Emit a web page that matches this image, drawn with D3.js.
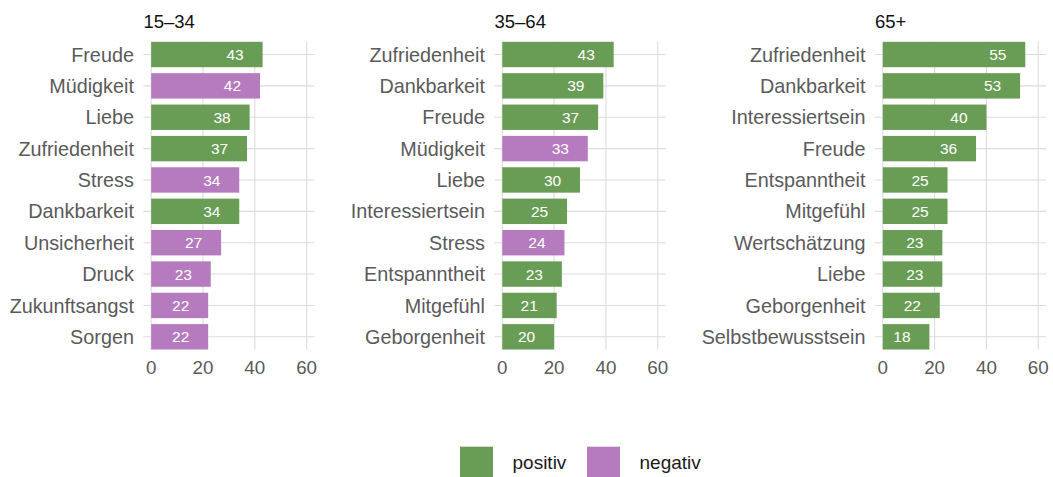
<!DOCTYPE html>
<meta charset="utf-8">
<html>
<style>
body { margin: 0; background: #fff; }
svg { font-family: "Liberation Sans", Arial, sans-serif; }
.grid line { stroke: #dcdcdc; stroke-width: 1.1px; }
.cat { fill: #5a5a5a; font-size: 19.8px; }
.tick { fill: #5a5a5a; font-size: 18.8px; }
.title { fill: #111; font-size: 18.5px; }
.val { fill: #fff; font-size: 15.5px; }
.legend text { fill: #1a1a1a; font-size: 19px; }
</style>
<body>
<script src="https://cdnjs.cloudflare.com/ajax/libs/d3/7.8.5/d3.min.js"></script>
<script>
	var width = 1053;
	var height = 477;

	var groups = ["15–34", "35–64", "65+"];

	var labels1 = ["Freude", "Müdigkeit", "Liebe", "Zufriedenheit", "Stress", "Dankbarkeit", "Unsicherheit", "Druck", "Zukunftsangst", "Sorgen"];
	var values1 = [43, 42, 38, 37, 34, 34, 27, 23, 22, 22];
	var kinds1  = ["positiv", "negativ", "positiv", "positiv", "negativ", "positiv", "negativ", "negativ", "negativ", "negativ"];

	var labels2 = ["Zufriedenheit", "Dankbarkeit", "Freude", "Müdigkeit", "Liebe", "Interessiertsein", "Stress", "Entspanntheit", "Mitgefühl", "Geborgenheit"];
	var values2 = [43, 39, 37, 33, 30, 25, 24, 23, 21, 20];
	var kinds2  = ["positiv", "positiv", "positiv", "negativ", "positiv", "positiv", "negativ", "positiv", "positiv", "positiv"];

	var labels3 = ["Zufriedenheit", "Dankbarkeit", "Interessiertsein", "Freude", "Entspanntheit", "Mitgefühl", "Wertschätzung", "Liebe", "Geborgenheit", "Selbstbewusstsein"];
	var values3 = [55, 53, 40, 36, 25, 25, 23, 23, 22, 18];
	var kinds3  = ["positiv", "positiv", "positiv", "positiv", "positiv", "positiv", "positiv", "positiv", "positiv", "positiv"];

	var xTicks = [0, 20, 40, 60];
	var legendKeys = ["positiv", "negativ"];

	var color = d3.scaleOrdinal().domain(legendKeys).range(["#699d55", "#b57bbe"]);

	var panelLefts = [143.4, 494.5, 875];
	var panelWidth = 171;
	var panelTop = 41.8, panelBottom = 349.5;

	var svg = d3.select("body").append("svg")
		.attr("width", width)
		.attr("height", height);

	var panels = [
		{labels: labels1, values: values1, kinds: kinds1},
		{labels: labels2, values: values2, kinds: kinds2},
		{labels: labels3, values: values3, kinds: kinds3}
	];

	panels.forEach(function(p, i) {
		var left = panelLefts[i];
		var x = d3.scaleLinear().domain([-3, 63]).range([left, left + panelWidth]);
		var y = d3.scaleBand().domain(p.labels).range([panelTop, panelBottom])
			.paddingInner(0.19).paddingOuter(0);

		var rows = p.labels.map(function(l, j) {
			return {label: l, value: p.values[j], kind: p.kinds[j]};
		});

		var g = svg.append("g");

		// gridlines
		var grid = g.append("g").attr("class", "grid");
		grid.selectAll(".v").data(xTicks).enter().append("line")
			.attr("x1", d => x(d)).attr("x2", d => x(d))
			.attr("y1", panelTop).attr("y2", panelBottom);
		grid.selectAll(".h").data(p.labels).enter().append("line")
			.attr("x1", left).attr("x2", left + panelWidth)
			.attr("y1", d => y(d) + y.bandwidth() / 2)
			.attr("y2", d => y(d) + y.bandwidth() / 2);

		// bars
		g.selectAll("rect").data(rows).enter().append("rect")
			.attr("x", x(0))
			.attr("y", d => y(d.label))
			.attr("width", d => x(d.value) - x(0))
			.attr("height", y.bandwidth())
			.attr("fill", d => color(d.kind));

		g.selectAll(".val").data(rows).enter().append("text")
			.attr("class", "val")
			.attr("text-anchor", "middle")
			.attr("x", d => x(d.value) - 27.5)
			.attr("y", d => y(d.label) + y.bandwidth() / 2)
			.attr("dy", "0.36em")
			.text(d => d.value);

		// category labels
		g.selectAll(".cat").data(p.labels).enter().append("text")
			.attr("class", "cat")
			.attr("text-anchor", "end")
			.attr("x", left - 9.5)
			.attr("y", d => y(d) + y.bandwidth() / 2)
			.attr("dy", "0.36em")
			.text(d => d);

		// x tick labels
		g.selectAll(".tick").data(xTicks).enter().append("text")
			.attr("class", "tick")
			.attr("text-anchor", "middle")
			.attr("x", d => x(d))
			.attr("y", 374)
			.text(d => d);

		g.append("text")
			.attr("class", "title")
			.attr("x", left)
			.attr("y", 27.5)
			.text(groups[i]);
	});

	// legend
	var legend = svg.append("g").attr("class", "legend");
	var legendX = [460, 587];
	legendKeys.forEach(function(k, i) {
		legend.append("rect")
			.attr("x", legendX[i]).attr("y", 446.7)
			.attr("width", 33).attr("height", 33)
			.attr("fill", color(k));
		legend.append("text")
			.attr("x", legendX[i] + 52.5)
			.attr("y", 469)
			.text(k);
	});
</script>
</body>
</html>
